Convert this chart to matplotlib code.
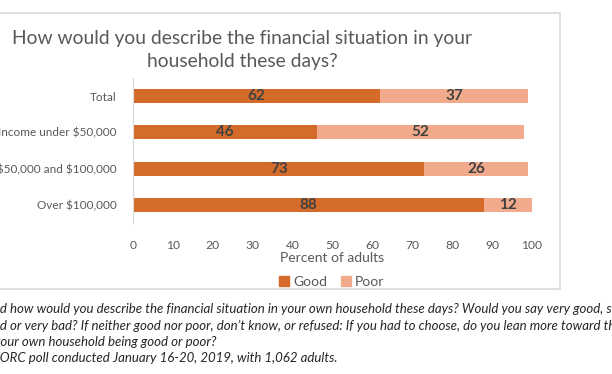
import matplotlib.pyplot as plt
from matplotlib.patches import Rectangle, Patch

categories = ["Total", "Income under \\$50,000", "Income between \\$50,000 and \\$100,000", "Over \\$100,000"]
good = [62, 46, 73, 88]
poor = [37, 52, 26, 12]
title = "How would you describe the financial situation in your\nhousehold these days?"
notes = [
    ("Question: An", "d how would you describe the financial situation in your own household these days? Would you say very good, somewhat good,"),
    ("somewhat ba", "d or very bad? If neither good nor poor, don\u2019t know, or refused: If you had to choose, do you lean more toward thinking of the financial situation in"),
    ("y", "our own household being good or poor?"),
    ("Source: AP-N", "ORC poll conducted January 16-20, 2019, with 1,062 adults."),
]

GOOD_C = "#D46B2A"
POOR_C = "#F2AA8C"
plt.rcParams["font.family"] = ["Lato", "DejaVu Sans"]

W, H = 612, 374
fig = plt.figure(figsize=(W / 100, H / 100), dpi=100)
ax = fig.add_axes([133 / W, 1 - 223 / H, 399 / W, 145 / H])

# chart frame (left edge falls outside the picture)
fig.patches.append(Rectangle((-10 / W, 1 - 289 / H), 570 / W, 276 / H, transform=fig.transFigure,
                             fill=False, edgecolor="#D9D9D9", linewidth=1.2, zorder=0))

y = list(range(len(categories)))
ax.barh(y, good, height=0.39, color=GOOD_C, label="Good")
ax.barh(y, poor, left=good, height=0.39, color=POOR_C, label="Poor")
for i in y:
    ax.text(good[i] / 2, i, str(good[i]), ha="center", va="center", fontsize=11,
            fontweight="bold", color="#404040")
    ax.text(good[i] + poor[i] / 2, i, str(poor[i]), ha="center", va="center", fontsize=11,
            fontweight="bold", color="#404040")

ax.set_xlim(0, 100)
ax.set_ylim(3.5, -0.5)
ax.set_xticks(range(0, 101, 10))
ax.set_yticks(y)
ax.set_yticklabels(categories)
ax.tick_params(axis="both", length=0, labelsize=8.7, colors="#595959")
ax.tick_params(axis="y", pad=12, labelsize=8.5)
ax.tick_params(axis="x", pad=12)
for s in ["top", "right", "bottom"]:
    ax.spines[s].set_visible(False)
ax.spines["left"].set_color("#D9D9D9")
ax.set_xlabel("Percent of adults", fontsize=10, color="#595959", labelpad=1)

fig.legend(handles=[Patch(color=GOOD_C, label="Good"), Patch(color=POOR_C, label="Poor")],
           loc="center", bbox_to_anchor=(332 / W, 1 - 282 / H), ncol=2, frameon=False,
           fontsize=10, handlelength=0.7, handleheight=0.7, handletextpad=0.3,
           columnspacing=1.0, labelcolor="#595959")

fig.text(242.5 / W, 1 - 50 / H, title, ha="center", va="center", fontsize=13.9,
         color="#595959", linespacing=1.45)

# footnote lines, partly cut off at the left edge like the reference
renderer = fig.canvas.get_renderer()
for k, (pre, rest) in enumerate(notes):
    ypos = 1 - (309 + k * 16.5) / H
    probe = fig.text(0, ypos, pre, fontsize=9.5, style="italic")
    w = probe.get_window_extent(renderer).width
    probe.remove()
    fig.text(-w / W, ypos, pre + rest, fontsize=9.5, style="italic", color="#262626", va="center")

fig.savefig("out.png", dpi=100)
